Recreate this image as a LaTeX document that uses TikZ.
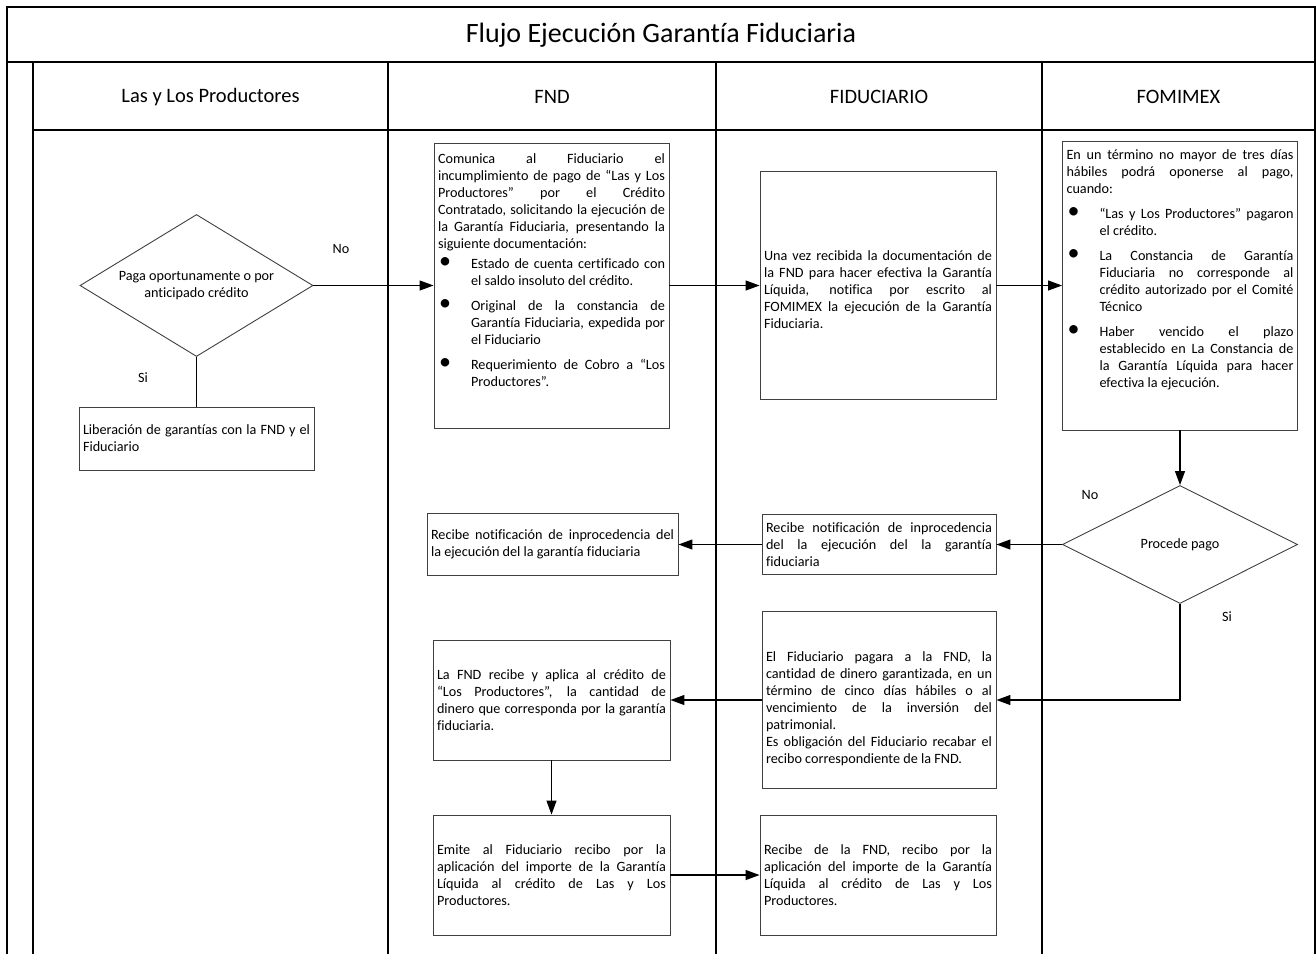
\documentclass[tikz,border=0pt]{standalone}
\usepackage{fontspec}
\setmainfont{Carlito}[Ligatures=NoCommon]
\usetikzlibrary{positioning, arrows.meta, shapes.geometric}
\hyphenpenalty=10000
\exhyphenpenalty=10000
\tolerance=9999
\newcommand{\nos}{\spaceskip=\fontdimen2\font plus 3\fontdimen3\font minus 0pt\relax}
\newcommand{\bul}[1][8pt]{\par\vspace{#1}\hangindent=33pt\hangafter=1\noindent\makebox[33pt][l]{\hspace{1pt}\smash{\fontsize{24}{17}\selectfont\textbullet}}\ignorespaces}
\newcommand{\padv}[1]{\par\hrule height0pt depth0pt width0pt\vskip#1\hrule height0pt depth0pt width0pt\relax}

\begin{document}
\begin{tikzpicture}[
		x=1pt, y=-1pt,
		>={Triangle[length=14pt, width=10pt]},
		lane/.style={line width=1.6pt},
		box/.style={draw=black!75, line width=0.9pt, rectangle, align=justify, inner sep=4pt, font=\fontsize{14.2}{17}\selectfont\nos},
		decision/.style={draw=black!75, line width=0.9pt, diamond, align=center, inner sep=0pt, font=\fontsize{14.2}{17}\selectfont},
		lbl/.style={font=\fontsize{14.2}{17}\selectfont},
		head/.style={font=\fontsize{20.5}{24}\selectfont},
		flow/.style={->, line width=1.2pt},
	]
	\useasboundingbox (0,0) rectangle (1316,954);
	\draw[lane] (7,954) -- (7,7) -- (1315,7) -- (1315,954);
	\draw[lane] (7,62) -- (1315,62);
	\draw[lane] (33,130) -- (1315,130);
	\foreach \x in {33,388,716,1042}
		\draw[lane] (\x,62) -- (\x,954);

	\node[font=\fontsize{28}{30}\selectfont] (title) at (661,35) {Flujo Ejecución Garantía Fiduciaria};
	\node[head] (hprod) at (210.5,97) {Las y Los Productores};
	\node[head] (hfnd) at (552,97) {FND};
	\node[head] (hfid) at (879,97) {FIDUCIARIO};
	\node[head] (hfomi) at (1178.5,97) {FOMIMEX};

	\node[decision, minimum width=233pt, minimum height=142pt, shape aspect=1.64] (paga) at (196.5,285.5) {Paga oportunamente o por\\anticipado crédito};
	\node[box, text width=227pt, minimum height=63pt] (liber) at (196.5,438.5) {Liberación de garantías con la FND y el\linebreak Fiduciario};

	\node[box, text width=227pt, minimum height=285pt] (comunica) at (551.5,285.5) {Comunica al Fiduciario el\linebreak incumplimiento de pago de “Las y Los\linebreak Productores” por el Crédito\linebreak Contratado, solicitando la ejecución de\linebreak la Garantía Fiduciaria, presentando la\linebreak siguiente documentación:
		\bul[3pt] Estado de cuenta certificado con\linebreak el saldo insoluto del crédito.
		\bul Original de la constancia de\linebreak Garantía Fiduciaria, expedida por\linebreak el Fiduciario
		\bul Requerimiento de Cobro a “Los\linebreak Productores”.\padv{31pt}};
	\node[box, text width=228pt, minimum height=228pt] (unavez) at (878,285.5) {\padv{8pt}Una vez recibida la documentación de\linebreak la FND para hacer efectiva la Garantía\linebreak Líquida, notifica por escrito al\linebreak FOMIMEX la ejecución de la Garantía\linebreak Fiduciaria.};
	\node[box, text width=227pt, minimum height=289pt] (fomimex) at (1180,285.5) {En un término no mayor de tres días\linebreak hábiles podrá oponerse al pago,\linebreak cuando:
		\bul “Las y Los Productores” pagaron\linebreak el crédito.
		\bul La Constancia de Garantía\linebreak Fiduciaria no corresponde al\linebreak crédito autorizado por el Comité\linebreak Técnico
		\bul Haber vencido el plazo\linebreak establecido en La Constancia de\linebreak la Garantía Líquida para hacer\linebreak efectiva la ejecución.\padv{31pt}};

	\node[decision, minimum width=235pt, minimum height=118pt, shape aspect=2] (procede) at (1180,544.5) {Procede pago};
	\node[box, text width=226pt, minimum height=60pt] (notiffid) at (879,544.5) {Recibe notificación de inprocedencia\linebreak del la ejecución del la garantía\linebreak fiduciaria};
	\node[box, text width=243pt, minimum height=62pt] (notiffnd) at (552.5,544.5) {Recibe notificación de inprocedencia del\linebreak la ejecución del la garantía fiduciaria};

	\node[box, text width=226pt, minimum height=177pt] (pagara) at (879,700) {\padv{18pt}El Fiduciario pagara a la FND, la\linebreak cantidad de dinero garantizada, en un\linebreak término de cinco días hábiles o al\linebreak vencimiento de la inversión del\linebreak patrimonial.\par
		Es obligación del Fiduciario recabar el\linebreak recibo correspondiente de la FND.};
	\node[box, text width=229pt, minimum height=120pt] (aplica) at (551.5,700) {La FND recibe y aplica al crédito de\linebreak “Los Productores”, la cantidad de\linebreak dinero que corresponda por la garantía\linebreak fiduciaria.};
	\node[box, text width=229pt, minimum height=120pt] (emite) at (551.5,875) {Emite al Fiduciario recibo por la\linebreak aplicación del importe de la Garantía\linebreak Líquida al crédito de Las y Los\linebreak Productores.};
	\node[box, text width=228pt, minimum height=120pt] (recibe) at (878,875) {Recibe de la FND, recibo por la\linebreak aplicación del importe de la Garantía\linebreak Líquida al crédito de Las y Los\linebreak Productores.};

	\node[lbl] (no1) at (341,249) {No};
	\node[lbl] (si1) at (143,378) {Si};
	\node[lbl] (no2) at (1090,495) {No};
	\node[lbl] (si2) at (1227,617) {Si};

	\draw[line width=1.2pt] (paga.south) -- (liber.north);
	\foreach \i/\j in {paga/comunica, comunica/unavez, unavez/fomimex, procede/notiffid, notiffid/notiffnd, pagara/aplica, emite/recibe}
		\draw[flow] (\i) -- (\j);
	\draw[flow] (fomimex.south) -- (procede.north);
	\draw[flow] (procede.south) |- (pagara.east);
	\draw[flow] (aplica.south) -- (emite.north);
\end{tikzpicture}
\end{document}
